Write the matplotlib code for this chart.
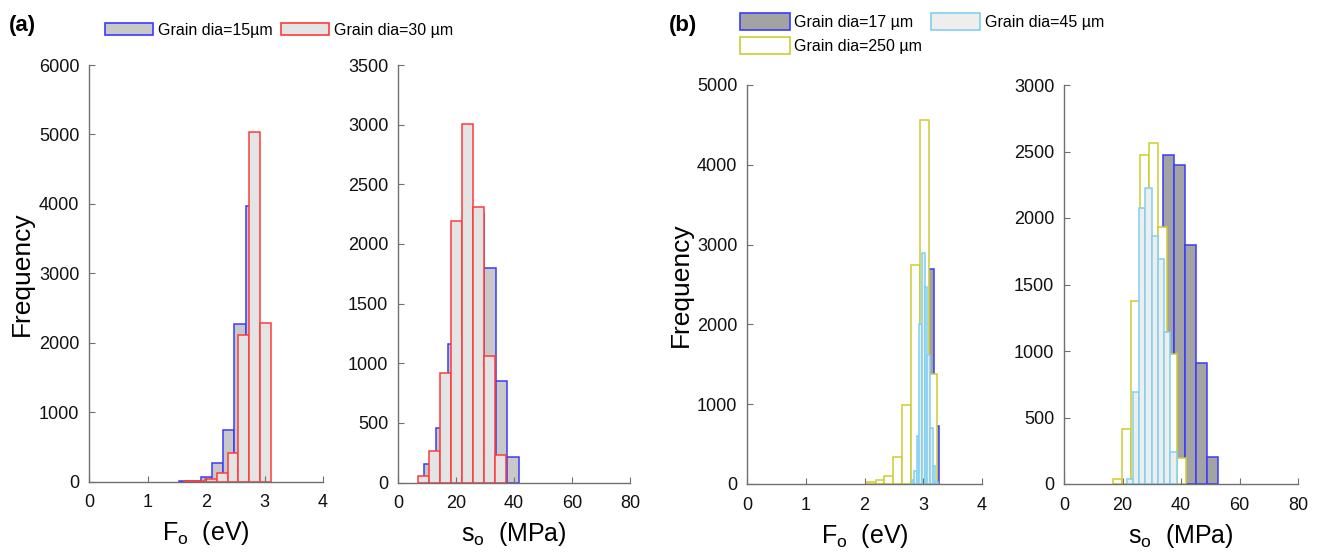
import numpy as np
import matplotlib
matplotlib.use("Agg")
import matplotlib.pyplot as plt
from matplotlib.patches import Patch

plt.rcParams['font.family'] = ['Liberation Sans', 'DejaVu Sans']
plt.rcParams['mathtext.fontset'] = 'custom'
plt.rcParams['mathtext.rm'] = 'Liberation Sans'
plt.rcParams['mathtext.it'] = 'Liberation Sans:italic'

# ---- (a) grain dia 15 / 30 um ----
fo15_edges = [1.53, 1.72, 1.91, 2.10, 2.29, 2.48, 2.68, 2.87, 3.06]
fo15_counts = [5, 10, 62, 273, 735, 2270, 3962, 1900]
fo30_edges = [1.62, 1.81, 1.99, 2.18, 2.37, 2.55, 2.74, 2.92, 3.11]
fo30_counts = [6, 14, 36, 127, 406, 2105, 5030, 2283]

so15_edges = [9.1, 13.2, 17.3, 21.4, 25.5, 29.6, 33.7, 37.7, 41.8]
so15_counts = [158, 457, 1162, 2150, 2250, 1798, 853, 210]
so30_edges = [7.0, 10.8, 14.6, 18.4, 22.2, 26.0, 29.8, 33.6, 37.4]
so30_counts = [53, 263, 915, 2193, 3008, 2311, 1060, 227]

# ---- (b) grain dia 17 / 45 / 250 um ----
fo17_edges = [2.70, 2.795, 2.89, 2.985, 3.08, 3.175, 3.27]
fo17_counts = [100, 700, 2300, 3400, 2690, 730]
fo45_edges = [2.80, 2.845, 2.89, 2.935, 2.98, 3.025, 3.07, 3.115, 3.16, 3.205, 3.25]
fo45_counts = [45, 165, 600, 2010, 2900, 2470, 1620, 700, 230, 30]
fo250_edges = [2.04, 2.19, 2.34, 2.49, 2.64, 2.79, 2.94, 3.09, 3.24]
fo250_counts = [20, 45, 104, 333, 992, 2750, 4562, 1379]

so17_edges = [22.4, 26.2, 30.0, 33.8, 37.6, 41.4, 45.2, 49.0, 52.8]
so17_counts = [30, 230, 1850, 2470, 2400, 1800, 910, 200]
so45_edges = [21.4, 23.5, 25.6, 27.8, 30.0, 32.0, 34.2, 36.2, 38.5]
so45_counts = [38, 690, 2076, 2226, 1866, 1695, 1142, 241]
so250_edges = [16.9, 19.9, 23.0, 26.1, 29.2, 32.2, 35.3, 38.5, 41.6]
so250_counts = [40, 412, 1378, 2470, 2564, 1929, 975, 195]

labels_a = ["Grain dia=15µm", "Grain dia=30 µm"]
labels_b = ["Grain dia=17 µm", "Grain dia=45 µm", "Grain dia=250 µm"]

BLUE = "#3a3aff"; RED = "#ff3b3b"; CYAN = "#80d0f0"; YEL = "#cccc33"
G15 = "#c8c8c8"; G30 = "#e4e4e4"; G17 = "#a3a3a3"; G45 = "#eeeeee"
AXC = "#707070"

W, H = 1326, 554
fig = plt.figure(figsize=(W / 100, H / 100), dpi=100)


def box(l, r, t, b):
    return [l / W, 1 - b / H, (r - l) / W, (b - t) / H]


def hist(ax, edges, counts, fc, ec):
    e = np.asarray(edges)
    ax.bar(e[:-1], counts, width=np.diff(e), align="edge", color=fc,
           edgecolor=ec, linewidth=1.1)


def style(ax, xmax, xstep, ymax, ystep):
    ax.set_xlim(0, xmax); ax.set_ylim(0, ymax)
    ax.set_xticks(np.arange(0, xmax + xstep / 2, xstep))
    ax.set_yticks(np.arange(0, ymax + ystep / 2, ystep))
    for s in ("top", "right"):
        ax.spines[s].set_visible(False)
    for s in ("left", "bottom"):
        ax.spines[s].set_color(AXC); ax.spines[s].set_linewidth(1.0)
    ax.tick_params(direction="in", length=4, width=0.8, color=AXC,
                   labelsize=13, labelcolor="#111111")
    ax.tick_params(axis="x", pad=9)
    ax.tick_params(axis="y", pad=7)


def xlab(ax, s):
    ax.set_xlabel(s, fontsize=18, labelpad=6)


# (a) left: Fo
ax = fig.add_axes(box(89, 323, 65, 481.5))
hist(ax, fo15_edges, fo15_counts, G15, BLUE)
hist(ax, fo30_edges, fo30_counts, G30, RED)
style(ax, 4, 1, 6000, 1000)
ax.set_ylabel("Frequency", fontsize=19)
ax.yaxis.set_label_coords(-0.235, 0.5)
xlab(ax, r"F$_{\mathrm{o}}$  (eV)")

# (a) right: so
ax = fig.add_axes(box(398, 630, 65, 482.5))
hist(ax, so15_edges, so15_counts, G15, BLUE)
hist(ax, so30_edges, so30_counts, G30, RED)
style(ax, 80, 20, 3500, 500)
xlab(ax, r"s$_{\mathrm{o}}$  (MPa)")

# (b) left: Fo
ax = fig.add_axes(box(747, 982, 85, 484))
hist(ax, fo17_edges, fo17_counts, G17, BLUE)
hist(ax, fo250_edges, fo250_counts, "white", YEL)
hist(ax, fo45_edges, fo45_counts, G45, CYAN)
style(ax, 4, 1, 5000, 1000)
ax.set_ylabel("Frequency", fontsize=19)
ax.yaxis.set_label_coords(-0.23, 0.5)
xlab(ax, r"F$_{\mathrm{o}}$  (eV)")

# (b) right: so
ax = fig.add_axes(box(1064, 1298, 85, 484))
hist(ax, so17_edges, so17_counts, G17, BLUE)
hist(ax, so250_edges, so250_counts, "white", YEL)
hist(ax, so45_edges, so45_counts, G45, CYAN)
style(ax, 80, 20, 3000, 500)
xlab(ax, r"s$_{\mathrm{o}}$  (MPa)")

# legends
h_a = [Patch(fc=G15, ec=BLUE, lw=1.2), Patch(fc=G30, ec=RED, lw=1.2)]
fig.legend(h_a, labels_a, ncol=2, loc="center left", bbox_to_anchor=(105 / W, 1 - 30 / H),
           frameon=False, fontsize=11.5, handlelength=3.0, handleheight=0.75,
           handletextpad=0.3, columnspacing=0.55, borderpad=0, borderaxespad=0)

h17 = Patch(fc=G17, ec=BLUE, lw=1.2)
h45 = Patch(fc=G45, ec=CYAN, lw=1.2)
h250 = Patch(fc="white", ec=YEL, lw=1.2)
fig.legend([h17, h250, h45], [labels_b[0], labels_b[2], labels_b[1]], ncol=2,
           loc="center left", bbox_to_anchor=(740 / W, 1 - 33.5 / H),
           frameon=False, fontsize=11.5, handlelength=3.1, handleheight=1.25,
           handletextpad=0.3, columnspacing=0.55, labelspacing=0.44,
           borderpad=0, borderaxespad=0)

fig.text(9 / W, 1 - 26 / H, "(a)", fontsize=16, fontweight="bold", va="center")
fig.text(669 / W, 1 - 26 / H, "(b)", fontsize=16, fontweight="bold", va="center")

fig.savefig("out.png", dpi=100)
